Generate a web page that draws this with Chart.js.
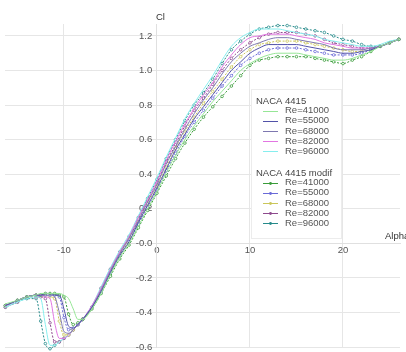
<!DOCTYPE html>
<html><head><meta charset="utf-8">
<script src="https://cdn.jsdelivr.net/npm/chart.js@4/dist/chart.umd.min.js"></script>
<style>html,body{margin:0;padding:0;background:#fff}#wrap{width:406px;height:352px;position:relative}</style>
</head><body><div id="wrap"><canvas id="c"></canvas></div>
<script>
// Angle of attack (deg)
const alpha = [-16.3,-15,-14,-13,-12.5,-12,-11.5,-11,-10.5,-10,-9.5,-9,-8.5,-8,-7,-6,-5,-4,-3,-2,-1,0,1,2,3,4,5,6,7,8,9,10,11,12,13,14,15,16,17,18,19,20,21,22,23,24,25,26];

// NACA 4415
const orig41000 = [-0.35,-0.33,-0.31,-0.30,-0.29,-0.29,-0.29,-0.29,-0.29,-0.30,-0.32,-0.38,-0.44,-0.44,-0.38,-0.29,-0.18,-0.08,
  0.00,0.10,0.20,0.30,0.41,0.51,0.60,0.68,0.75,0.82,0.88,0.94,1.00,
  1.04,1.07,1.09,1.10,1.10,1.10,1.09,1.08,1.07,1.06,1.06,1.07,1.09,1.11,1.14,1.16,1.18];
const orig55000 = [-0.36,-0.33,-0.31,-0.30,-0.30,-0.29,-0.29,-0.30,-0.30,-0.38,-0.48,-0.49,-0.47,-0.44,-0.37,-0.28,-0.17,-0.07,
  0.01,0.12,0.22,0.32,0.43,0.54,0.63,0.72,0.79,0.86,0.93,1.00,1.05,
  1.10,1.13,1.15,1.15,1.15,1.15,1.14,1.13,1.12,1.11,1.10,1.10,1.11,1.12,1.14,1.16,1.18];
const orig68000 = [-0.36,-0.33,-0.31,-0.30,-0.30,-0.30,-0.30,-0.31,-0.40,-0.51,-0.52,-0.50,-0.47,-0.44,-0.37,-0.27,-0.16,-0.06,
  0.03,0.13,0.24,0.34,0.46,0.56,0.66,0.75,0.83,0.90,0.98,1.05,1.10,
  1.14,1.16,1.18,1.19,1.19,1.18,1.17,1.16,1.15,1.13,1.12,1.12,1.12,1.13,1.14,1.16,1.18];
const orig82000 = [-0.36,-0.33,-0.31,-0.30,-0.30,-0.31,-0.32,-0.46,-0.55,-0.55,-0.53,-0.50,-0.47,-0.44,-0.36,-0.26,-0.15,-0.05,
  0.04,0.15,0.25,0.36,0.48,0.59,0.69,0.78,0.86,0.93,1.02,1.09,1.15,
  1.19,1.20,1.21,1.21,1.21,1.20,1.19,1.18,1.16,1.15,1.14,1.13,1.13,1.13,1.14,1.16,1.18];
const orig96000 = [-0.37,-0.34,-0.32,-0.31,-0.32,-0.47,-0.59,-0.59,-0.57,-0.55,-0.53,-0.50,-0.47,-0.44,-0.36,-0.25,-0.14,-0.04,
  0.05,0.16,0.27,0.38,0.50,0.61,0.72,0.81,0.89,0.97,1.06,1.14,1.19,
  1.22,1.24,1.24,1.24,1.23,1.22,1.21,1.20,1.18,1.17,1.16,1.15,1.14,1.14,1.15,1.17,1.18];

// NACA 4415 modif
const modif41000 = [-0.36,-0.33,-0.31,-0.30,-0.30,-0.29,-0.29,-0.29,-0.30,-0.31,-0.41,-0.47,-0.46,-0.44,-0.38,-0.29,-0.19,-0.09,
  -0.01,0.09,0.19,0.29,0.39,0.49,0.58,0.66,0.73,0.79,0.85,0.91,0.97,
  1.03,1.06,1.07,1.08,1.08,1.08,1.08,1.07,1.06,1.05,1.04,1.06,1.08,1.11,1.14,1.16,1.18];
const modif55000 = [-0.36,-0.33,-0.31,-0.30,-0.30,-0.30,-0.30,-0.30,-0.31,-0.43,-0.50,-0.49,-0.47,-0.44,-0.37,-0.28,-0.17,-0.07,
  0.01,0.11,0.21,0.31,0.42,0.52,0.62,0.70,0.77,0.84,0.91,0.97,1.03,
  1.07,1.10,1.12,1.13,1.13,1.13,1.12,1.11,1.10,1.09,1.09,1.09,1.10,1.12,1.14,1.16,1.18];
const modif68000 = [-0.36,-0.33,-0.31,-0.30,-0.30,-0.30,-0.31,-0.32,-0.45,-0.53,-0.53,-0.50,-0.47,-0.44,-0.37,-0.27,-0.16,-0.06,
  0.02,0.12,0.23,0.33,0.44,0.55,0.65,0.73,0.81,0.88,0.95,1.02,1.08,
  1.12,1.15,1.16,1.17,1.17,1.17,1.16,1.15,1.14,1.13,1.12,1.11,1.11,1.12,1.14,1.16,1.18];
const modif82000 = [-0.37,-0.34,-0.31,-0.31,-0.31,-0.32,-0.46,-0.57,-0.57,-0.55,-0.53,-0.50,-0.47,-0.44,-0.37,-0.26,-0.15,-0.05,
  0.03,0.14,0.25,0.35,0.47,0.57,0.68,0.77,0.84,0.92,1.00,1.07,1.12,
  1.16,1.19,1.21,1.22,1.22,1.22,1.21,1.20,1.18,1.16,1.15,1.14,1.13,1.13,1.14,1.16,1.18];
const modif96000 = [-0.37,-0.34,-0.32,-0.32,-0.45,-0.58,-0.61,-0.59,-0.57,-0.55,-0.53,-0.50,-0.47,-0.44,-0.37,-0.26,-0.15,-0.05,
  0.04,0.15,0.26,0.37,0.49,0.60,0.71,0.80,0.87,0.95,1.04,1.12,1.17,
  1.21,1.24,1.25,1.26,1.26,1.25,1.24,1.23,1.22,1.20,1.18,1.17,1.15,1.14,1.14,1.16,1.18];

const reLabels = ["Re=41000","Re=55000","Re=68000","Re=82000","Re=96000"];
const groupTitles = ["NACA 4415","NACA 4415 modif"];
const xTickValues = [-10,0,10,20];
const yTickValues = [-0.6,-0.4,-0.2,0,0.2,0.4,0.6,0.8,1.0,1.2];

const origSeries = [orig41000,orig55000,orig68000,orig82000,orig96000];
const modifSeries = [modif41000,modif55000,modif68000,modif82000,modif96000];
const origColors = ['#96e696','#5252a8','#7e78b0','#e276e2','#86eeee'];
const modifColors = ['#3a9c3a','#6a6ad8','#cac65a','#8e4a8e','#268a8a'];
const groupColors = [origColors, modifColors];

const toPts = arr => alpha.map((a,i)=>({x:a,y:arr[i]}));
const datasets = [];
origSeries.forEach((s,i)=>datasets.push({
  label: groupTitles[0]+' '+reLabels[i], data: toPts(s),
  borderColor: origColors[i], borderWidth: 1, pointRadius: 0, clip: false,
  cubicInterpolationMode:'monotone', fill:false
}));
modifSeries.forEach((s,i)=>datasets.push({
  label: groupTitles[1]+' '+reLabels[i], data: toPts(s),
  borderColor: modifColors[i], borderWidth: 1, borderDash:[2,1.5], clip: false,
  pointRadius: 1.3, pointBorderWidth: 0.8, pointBackgroundColor:'#fff', pointBorderColor: modifColors[i],
  cubicInterpolationMode:'monotone', fill:false
}));

const FONT = '"Liberation Sans", Arial, sans-serif';
const deco = {
  id:'deco',
  afterDatasetsDraw(chart){
    const ctx = chart.ctx, xs = chart.scales.x, ys = chart.scales.y;
    ctx.save();
    ctx.setLineDash([]);
    // axis titles
    ctx.fillStyle = '#333';
    ctx.font = '9.5px ' + FONT;
    ctx.textBaseline = 'middle'; ctx.textAlign = 'left';
    ctx.fillText('Cl', xs.getPixelForValue(0) - 1, 17);
    ctx.fillText('Alpha', 385, ys.getPixelForValue(0) - 7);
    // legend box
    const bx = 251, by = 89, bw = 90, bh = 149;
    ctx.fillStyle = '#fff';
    ctx.fillRect(bx, by, bw, bh);
    ctx.strokeStyle = '#ececec'; ctx.lineWidth = 1;
    ctx.strokeRect(bx+0.5, by+0.5, bw, bh);
    const groupsY = [101, 173];
    groupTitles.forEach((t,g)=>{
      ctx.fillStyle = '#444';
      ctx.fillText(t, 256, groupsY[g]);
      reLabels.forEach((lab,i)=>{
        const y = groupsY[g] + 9.5 + i*10.2;
        const col = groupColors[g][i];
        const yy = Math.round(y)+0.5;
        ctx.strokeStyle = col; ctx.lineWidth = 1;
        ctx.beginPath(); ctx.moveTo(263, yy); ctx.lineTo(278, yy); ctx.stroke();
        if (g===1){
          ctx.fillStyle = col;
          ctx.beginPath(); ctx.arc(270.5, yy, 1.4, 0, Math.PI*2); ctx.fill();
        }
        ctx.fillStyle = '#555';
        ctx.fillText(lab, 285, y);
      });
    });
    ctx.restore();
  }
};

const noPad = s => { s.paddingTop = 0; s.paddingBottom = 0; s.paddingLeft = 0; s.paddingRight = 0; };

new Chart(document.getElementById('c'), {
  type:'line',
  data:{datasets},
  options:{
    responsive:true, maintainAspectRatio:false, animation:false,
    layout:{padding:{left:5,right:6,top:24,bottom:0}},
    plugins:{legend:{display:false}, tooltip:{enabled:false}},
    scales:{
      x:{type:'linear', min:-16.34, max:26.13, position:{y:0},
        afterBuildTicks: s => { s.ticks = xTickValues.map(v=>({value:v})); },
        afterFit: s => { s.height = 0; noPad(s); },
        grid:{color:'#e6e6e6', drawTicks:false, lineWidth:1},
        border:{display:true, color:'#e0e0e0'},
        ticks:{padding:1.5, color:'#555', font:{size:9.5, family:FONT},
          callback: v => String(v), maxRotation:0, autoSkip:false}
      },
      y:{type:'linear', min:-0.601, max:1.269, position:{x:0},
        afterBuildTicks: s => { s.ticks = yTickValues.map(v=>({value:v})); },
        afterFit: s => { s.width = 0; noPad(s); },
        grid:{color:'#e6e6e6', drawTicks:false, lineWidth:1},
        border:{display:true, color:'#e0e0e0'},
        ticks:{padding:4, color:'#555', font:{size:9.5, family:FONT},
          callback: v => (Math.abs(v)<1e-9 ? '-0.0' : v.toFixed(1)) + '\u2002', autoSkip:false}
      }
    }
  },
  plugins:[deco]
});
</script></body></html>
